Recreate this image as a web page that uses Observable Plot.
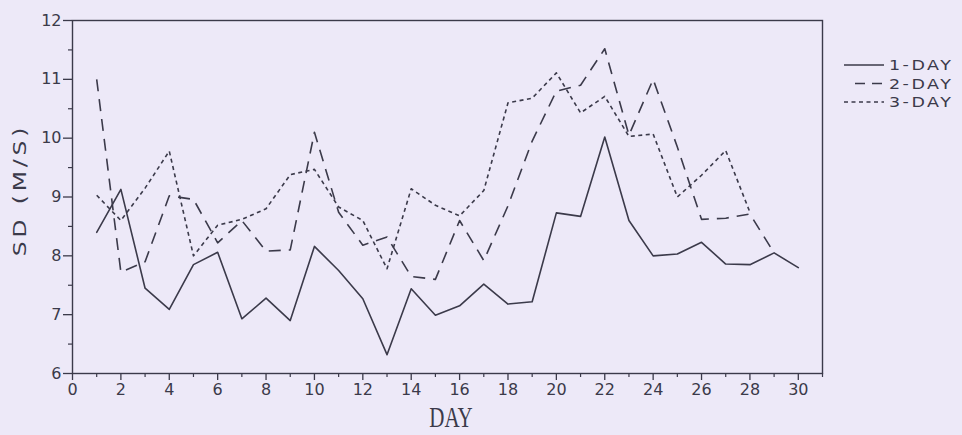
<!DOCTYPE html>
<html><head><meta charset="utf-8">
<script src="https://cdn.jsdelivr.net/npm/d3@7"></script>
<script src="https://cdn.jsdelivr.net/npm/@observablehq/plot@0.6"></script>
<style>
html,body{margin:0;padding:0;background:#ede9f8;}
</style></head><body><div id="chart"></div>
<script>
// Forecast day (x) and standard deviation (m/s) for each forecast range
const days = [1,2,3,4,5,6,7,8,9,10,11,12,13,14,15,16,17,18,19,20,21,22,23,24,25,26,27,28,29,30];
const oneDay = [8.40,9.13,7.45,7.09,7.85,8.06,6.93,7.28,6.90,8.16,7.75,7.27,6.32,7.44,6.99,7.15,7.52,7.18,7.22,8.73,8.67,10.02,8.60,8.00,8.03,8.23,7.86,7.85,8.05,7.80];
const twoDay = [11.00,7.72,7.90,9.02,8.96,8.22,8.60,8.08,8.10,10.10,8.74,8.18,8.32,7.65,7.60,8.60,7.92,8.85,9.95,10.80,10.90,11.52,10.05,11.00,9.85,8.62,8.64,8.71,8.05];
const threeDay = [9.03,8.60,9.15,9.78,8.00,8.52,8.62,8.80,9.38,9.47,8.83,8.60,7.78,9.14,8.86,8.68,9.11,10.60,10.68,11.11,10.43,10.71,10.03,10.07,9.00,9.37,9.79,8.74];
const seriesNames = ["1-DAY","2-DAY","3-DAY"];
const xMajor = [0,2,4,6,8,10,12,14,16,18,20,22,24,26,28,30];
const xMinor = [1,3,5,7,9,11,13,15,17,19,21,23,25,27,29,31];
const yMajor = [6,7,8,9,10,11,12];
const yMinor = [6.5,7.5,8.5,9.5,10.5,11.5];

const toRows = (vals) => vals.map((v, i) => ({day: days[i], sd: v}));
const r1 = toRows(oneDay), r2 = toRows(twoDay), r3 = toRows(threeDay);

const ink = "#3b3a4a";
const bg = "#ede9f8";
const dashes = [null, "12,8", "4,3.5"];

const chart = Plot.plot({
  width: 962, height: 435,
  marginLeft: 72, marginRight: 140, marginTop: 20, marginBottom: 62,
  style: {background: bg, color: ink, fontFamily: "'DejaVu Sans', sans-serif", fontSize: "16px"},
  x: {domain: [0, 31]},
  y: {domain: [6, 12]},
  marks: [
    Plot.frame({stroke: ink, strokeWidth: 1.4}),
    Plot.axisX({ticks: xMajor, tickSize: 7, tickPadding: 3, tickFormat: (d) => String(d), label: null, fontSize: 16, strokeWidth: 1.3}),
    Plot.axisX({ticks: xMinor, tickSize: 4, tickFormat: () => "", label: null, strokeWidth: 1.2}),
    Plot.axisY({ticks: yMajor, tickSize: 9, tickPadding: 2, tickFormat: (d) => String(d), label: null, fontSize: 16, strokeWidth: 1.3}),
    Plot.axisY({ticks: yMinor, tickSize: 4, tickFormat: () => "", label: null, strokeWidth: 1.2}),
    Plot.line(r1, {x: "day", y: "sd", stroke: ink, strokeWidth: 1.6}),
    Plot.line(r2, {x: "day", y: "sd", stroke: ink, strokeWidth: 1.6, strokeDasharray: dashes[1], strokeLinecap: "butt"}),
    Plot.line(r3, {x: "day", y: "sd", stroke: ink, strokeWidth: 1.6, strokeDasharray: dashes[2], strokeLinecap: "butt"})
  ]
});
document.getElementById("chart").appendChild(chart);

const svg = d3.select(chart);
// x axis title
svg.append("text").text("DAY")
  .attr("transform", "translate(451,427) scale(0.7,1)")
  .attr("text-anchor", "middle")
  .attr("fill", ink)
  .style("font-family", "'Liberation Serif', serif")
  .style("font-size", "30px");
// y axis title
svg.append("text").text("SD (M/S)")
  .attr("transform", "translate(26,190) rotate(-90) scale(1.3,1)")
  .attr("text-anchor", "middle")
  .attr("fill", ink)
  .style("font-family", "'DejaVu Sans', sans-serif")
  .style("font-size", "18px")
  .style("letter-spacing", "3px");
// legend
const lg = svg.append("g").attr("class", "legend").attr("text-anchor", "start");
seriesNames.forEach((name, i) => {
  const y = 65 + i * 18.5;
  lg.append("line")
    .attr("x1", i === 1 ? 855 : 844).attr("x2", 884)
    .attr("y1", y).attr("y2", y)
    .attr("stroke", ink).attr("stroke-width", 1.5)
    .attr("stroke-dasharray", i === 1 ? "10,7" : dashes[i]);
  lg.append("text").text(name)
    .attr("transform", `translate(889,${y + 5}) scale(1.25,1)`)
    .attr("text-anchor", "start")
    .attr("fill", ink)
    .style("font-family", "'DejaVu Sans', sans-serif")
    .style("font-size", "14px")
    .style("letter-spacing", "2px");
});
</script></body></html>
